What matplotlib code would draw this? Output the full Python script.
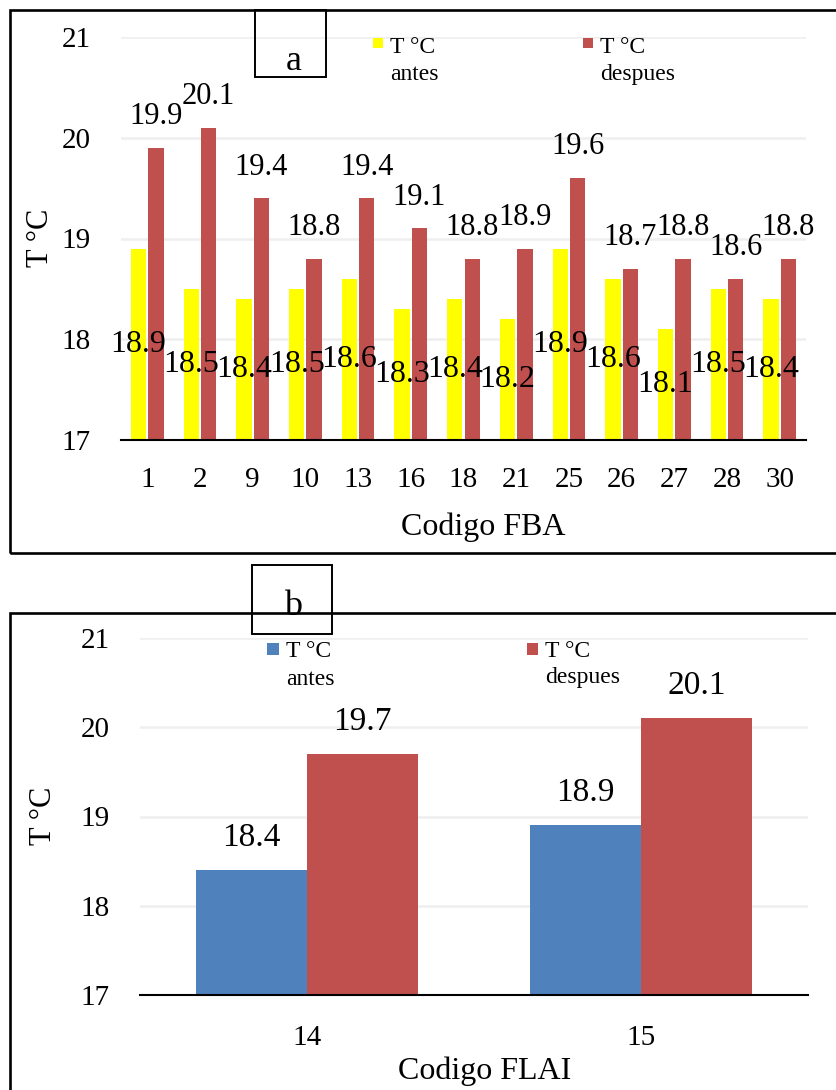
import numpy as np
import matplotlib.pyplot as plt
from matplotlib.patches import Rectangle

plt.rcParams['font.family'] = ['Liberation Serif', 'DejaVu Serif']

# ---- datos panel a (FBA) ----
codigos_fba = ['1', '2', '9', '10', '13', '16', '18', '21', '25', '26', '27', '28', '30']
antes_fba = [18.9, 18.5, 18.4, 18.5, 18.6, 18.3, 18.4, 18.2, 18.9, 18.6, 18.1, 18.5, 18.4]
despues_fba = [19.9, 20.1, 19.4, 18.8, 19.4, 19.1, 18.8, 18.9, 19.6, 18.7, 18.8, 18.6, 18.8]

# ---- datos panel b (FLAI) ----
codigos_flai = ['14', '15']
antes_flai = [18.4, 18.9]
despues_flai = [19.7, 20.1]

y_ticks = [17, 18, 19, 20, 21]
ley_antes = ['T °C', 'antes']
ley_despues = ['T °C', 'despues']

amarillo = '#FFFF00'
rojo = '#C0504D'
azul = '#4F81BD'

W, H = 837, 1090
fig = plt.figure(figsize=(W / 100, H / 100), dpi=100)


def box(x0, y0, x1, y1):
    return [x0 / W, 1 - y1 / H, (x1 - x0) / W, (y1 - y0) / H]


def fx(x):
    return x / W


def fy(y):
    return 1 - y / H


def estilo(ax, pad_x):
    ax.set_ylim(17, 21)
    ax.set_yticks(y_ticks)
    ax.tick_params(axis='y', length=0, pad=22, labelsize=21)
    ax.tick_params(axis='x', length=0, pad=pad_x, labelsize=21)
    for s in ['left', 'top', 'right']:
        ax.spines[s].set_visible(False)
    ax.spines['bottom'].set_color('black')
    ax.spines['bottom'].set_linewidth(1.5)
    ax.yaxis.grid(True, color='#EFEFEF', lw=1.8)
    ax.set_axisbelow(True)
    ax.patch.set_alpha(0)


def leyenda(sq, tx, color, lineas, base1, base2):
    fig.add_artist(Rectangle((fx(sq[0]), fy(sq[3])), (sq[2] - sq[0]) / W, (sq[3] - sq[1]) / H,
                             transform=fig.transFigure, color=color, lw=0))
    fig.text(fx(tx), fy(base1), lineas[0], fontsize=17, va='baseline', ha='left')
    fig.text(fx(tx), fy(base2), lineas[1], fontsize=17, va='baseline', ha='left')


# ================= panel a =================
ax1 = fig.add_axes(box(121, 37, 806, 440))
x = np.arange(len(codigos_fba))
ax1.bar(x - 0.165, antes_fba, width=0.29, color=amarillo)
ax1.bar(x + 0.165, despues_fba, width=0.29, color=rojo)
ax1.set_xlim(-0.5, len(codigos_fba) - 0.5)
ax1.set_xticks(x)
ax1.set_xticklabels(codigos_fba)
estilo(ax1, 19.5)

for i, v in enumerate(antes_fba):
    ax1.text(x[i] - 0.165, (17 + v) / 2, f'{v:.1f}', ha='center', va='center', fontsize=23)
for i, v in enumerate(despues_fba):
    ax1.annotate(f'{v:.1f}', (x[i] + 0.165, v), xytext=(0, 17), textcoords='offset points',
                 ha='center', va='baseline', fontsize=22)

fig.text(fx(483), fy(527), 'Codigo FBA', ha='center', va='center', fontsize=23)
fig.text(fx(40), fy(238), 'T °C', rotation=90, ha='center', va='center', fontsize=22)

leyenda((373, 38, 383, 48), 390, amarillo, ley_antes, 53, 80)
leyenda((583, 38, 593, 48), 600, rojo, ley_despues, 53, 80)

# marco y etiqueta a
fig.add_artist(Rectangle((fx(10), fy(553)), (860 - 10) / W, (553 - 10) / H,
                         transform=fig.transFigure, fill=False, ec='black', lw=1.9))
fig.add_artist(Rectangle((fx(255), fy(77)), (326 - 255) / W, (77 - 10) / H,
                         transform=fig.transFigure, fill=False, ec='black', lw=1.4))
fig.text(fx(294), fy(70), 'a', ha='center', va='baseline', fontsize=26)

# ================= panel b =================
ax2 = fig.add_axes(box(140, 638, 808, 995))
x2 = np.arange(len(codigos_flai))
ax2.bar(x2 - 1 / 6, antes_flai, width=1 / 3, color=azul)
ax2.bar(x2 + 1 / 6, despues_flai, width=1 / 3, color=rojo)
ax2.set_xlim(-0.5, len(codigos_flai) - 0.5)
ax2.set_xticks(x2)
ax2.set_xticklabels(codigos_flai)
estilo(ax2, 21.5)

for i, v in enumerate(antes_flai):
    ax2.annotate(f'{v:.1f}', (x2[i] - 1 / 6, v), xytext=(0, 17.5), textcoords='offset points',
                 ha='center', va='baseline', fontsize=24)
for i, v in enumerate(despues_flai):
    ax2.annotate(f'{v:.1f}', (x2[i] + 1 / 6, v), xytext=(0, 17.5), textcoords='offset points',
                 ha='center', va='baseline', fontsize=24)

fig.text(fx(485), fy(1071), 'Codigo FLAI', ha='center', va='center', fontsize=23)
fig.text(fx(44), fy(816), 'T °C', rotation=90, ha='center', va='center', fontsize=22)

leyenda((267, 643, 279, 655), 286, azul, ley_antes, 657, 685)
leyenda((527, 643, 538, 655), 545, rojo, ley_despues, 657, 683)

fig.add_artist(Rectangle((fx(10), fy(1120)), (860 - 10) / W, (1120 - 613) / H,
                         transform=fig.transFigure, fill=False, ec='black', lw=1.9))
fig.add_artist(Rectangle((fx(252), fy(634)), (332 - 252) / W, (634 - 565) / H,
                         transform=fig.transFigure, fill=False, ec='black', lw=1.4))
fig.text(fx(293), fy(615), 'b', ha='center', va='baseline', fontsize=26)

fig.savefig('out.png', dpi=100)
